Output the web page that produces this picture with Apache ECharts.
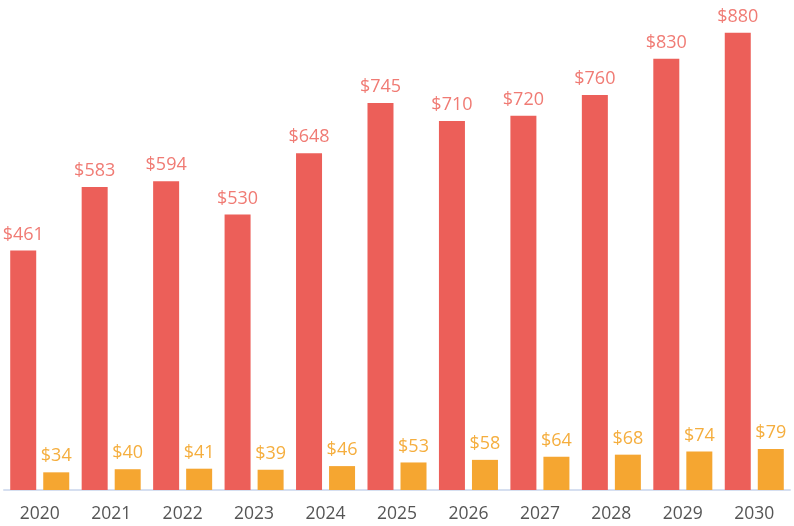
<!DOCTYPE html>
<html>
<head>
<meta charset="utf-8">
<script src="https://cdn.jsdelivr.net/npm/echarts@6/dist/echarts.min.js"></script>
<style>
  html, body { margin: 0; padding: 0; background: #fff; }
  #chart { width: 794px; height: 526px; }
</style>
</head>
<body>
<div id="chart"></div>
<script>
var years = ['2020', '2021', '2022', '2023', '2024', '2025', '2026', '2027', '2028', '2029', '2030'];
var totalValues = [461, 583, 594, 530, 648, 745, 710, 720, 760, 830, 880];
var segmentValues = [34, 40, 41, 39, 46, 53, 58, 64, 68, 74, 79];

var fontName = '"Open Sans", sans-serif';

var myChart = echarts.init(document.getElementById('chart'));

var option = {
    animation: false,
    grid: { left: 4, right: 4, top: 0, bottom: 36 },
    xAxis: {
        type: 'category',
        data: years,
        axisLine: { lineStyle: { color: '#d6dff0', width: 2 } },
        axisTick: { show: false },
        axisLabel: { color: '#555555', fontSize: 17.5, margin: 15, fontFamily: fontName }
    },
    yAxis: {
        type: 'value',
        min: 0,
        max: 943,
        show: false,
        splitLine: { show: false }
    },
    series: [{
        type: 'bar',
        data: totalValues,
        barWidth: 26,
        barGap: '27%',
        itemStyle: { color: '#ec5f59' },
        label: {
            show: true,
            position: 'top',
            distance: 7,
            formatter: '${c}',
            color: '#f07b74',
            fontSize: 18,
            fontFamily: fontName
        }
    }, {
        type: 'bar',
        data: segmentValues,
        barWidth: 26,
        itemStyle: { color: '#f5a631' },
        label: {
            show: true,
            position: 'top',
            distance: 7,
            formatter: '${c}',
            color: '#f5ae3e',
            fontSize: 18,
            fontFamily: fontName
        }
    }]
};

myChart.setOption(option);
</script>
</body>
</html>
